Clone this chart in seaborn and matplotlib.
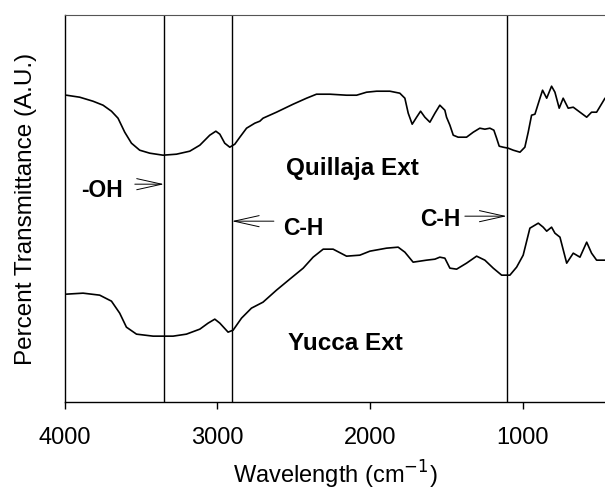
import numpy as np
import pandas as pd
import matplotlib
matplotlib.use("Agg")
import matplotlib.pyplot as plt
import seaborn as sns

# FTIR spectra (wavenumber in cm-1, transmittance in A.U.)
quillaja_wn = [3989, 3902, 3815, 3749, 3694, 3651, 3607, 3563, 3509, 3443,
               3356, 3268, 3181, 3115, 3050, 3010, 2984, 2952, 2919, 2886,
               2853, 2809, 2755, 2722, 2701, 2613, 2504, 2416, 2351, 2263,
               2154, 2088, 2023, 1957, 1870, 1805, 1772, 1750, 1724, 1695,
               1669, 1641, 1608, 1575, 1543, 1510, 1499, 1477, 1455, 1423,
               1368, 1324, 1281, 1248, 1215, 1189, 1171, 1154, 1128, 1095,
               1062, 1018, 986, 964, 942, 920, 887, 870, 843, 811,
               789, 761, 735, 702, 669, 625, 581, 549, 516, 461]
quillaja_t = [307, 305, 301, 297, 291, 284, 270, 259, 252, 249,
              247, 248, 251, 257, 267, 271, 268, 259, 255, 258,
              265, 274, 279, 281, 284, 290, 298, 304, 308, 308,
              307, 307, 310, 311, 311, 309, 304, 289, 278, 285,
              291, 285, 280, 289, 297, 292, 285, 277, 267, 265,
              265, 270, 274, 273, 274, 272, 264, 256, 255, 254,
              252, 250, 255, 270, 287, 288, 304, 312, 304, 316,
              310, 294, 304, 294, 295, 290, 285, 290, 290, 304]

yucca_wn = [3989, 3880, 3771, 3694, 3640, 3596, 3530, 3421, 3290, 3203,
            3115, 3061, 3017, 2984, 2930, 2897, 2842, 2777, 2701, 2613,
            2526, 2438, 2373, 2307, 2263, 2242, 2154, 2067, 2001, 1892,
            1816, 1772, 1718, 1674, 1630, 1575, 1543, 1510, 1477, 1433,
            1368, 1302, 1248, 1193, 1138, 1084, 1040, 997, 953, 898,
            866, 843, 811, 789, 756, 712, 669, 625, 581, 549,
            516, 461]
yucca_t = [108, 109, 107, 101, 89, 75, 68, 66, 66, 68,
           73, 79, 83, 79, 70, 72, 84, 94, 100, 112,
           123, 134, 145, 153, 153, 153, 146, 147, 151, 154,
           155, 150, 140, 141, 142, 143, 145, 144, 134, 133,
           139, 146, 142, 134, 127, 127, 135, 147, 174, 179,
           175, 171, 175, 169, 165, 139, 149, 145, 160, 149,
           142, 142]

marker_lines = [3350, 2905, 1105]
xtick_vals = [4000, 3000, 2000, 1000]

df = pd.concat([
    pd.DataFrame({"wn": quillaja_wn, "t": quillaja_t, "sample": "Quillaja Ext"}),
    pd.DataFrame({"wn": yucca_wn, "t": yucca_t, "sample": "Yucca Ext"}),
])

sns.set_style("ticks")
plt.rcParams["font.family"] = ["Liberation Sans", "DejaVu Sans"]
plt.rcParams["text.color"] = "black"
plt.rcParams["axes.labelcolor"] = "black"
plt.rcParams["xtick.color"] = "black"

fig = plt.figure(figsize=(6.05, 4.91), dpi=100)
ax = fig.add_axes([0.107, 0.181, 0.893, 0.788])

sns.lineplot(data=df, x="wn", y="t", units="sample", estimator=None,
             sort=False, color="black", linewidth=1.2, ax=ax)

for w in marker_lines:
    ax.axvline(w, color="black", linewidth=1.0)

ax.set_xlim(4000, 461)
ax.set_ylim(0, 387)
ax.set_xticks(xtick_vals)
ax.set_yticks([])
ax.tick_params(axis="x", direction="out", length=5, width=1, labelsize=17, pad=13)

for s in ["left", "bottom"]:
    ax.spines[s].set_linewidth(1.0)
    ax.spines[s].set_color("black")
ax.spines["top"].set_linewidth(0.8)
ax.spines["top"].set_color("#555555")
ax.spines["right"].set_visible(False)

ax.set_xlabel("Wavelength (cm$^{-1}$)", fontsize=17, labelpad=7)
ax.set_ylabel("Percent Transmittance (A.U.)", fontsize=17.5, labelpad=20)

bold = dict(fontsize=16.5, fontweight="bold", ha="center", va="baseline")
ax.text(2119, 227, "Quillaja Ext", fontsize=17.5, fontweight="bold", ha="center", va="baseline")
ax.text(2159, 52, "Yucca Ext", fontsize=17.5, fontweight="bold", ha="center", va="baseline")
ax.text(3758, 205, "-OH", **bold)
ax.text(2440, 167, "C-H", **bold)
ax.text(1543, 176, "C-H", **bold)

arrow = dict(arrowstyle="->,head_length=1.8,head_width=0.4", color="black",
             lw=0.7, shrinkA=0, shrinkB=0)
ax.annotate("", xy=(3350, 218), xytext=(3541, 218), arrowprops=arrow)
ax.annotate("", xy=(2905, 181), xytext=(2630, 181), arrowprops=arrow)
ax.annotate("", xy=(1105, 186), xytext=(1379, 186), arrowprops=arrow)

fig.savefig("out.png", dpi=100)
